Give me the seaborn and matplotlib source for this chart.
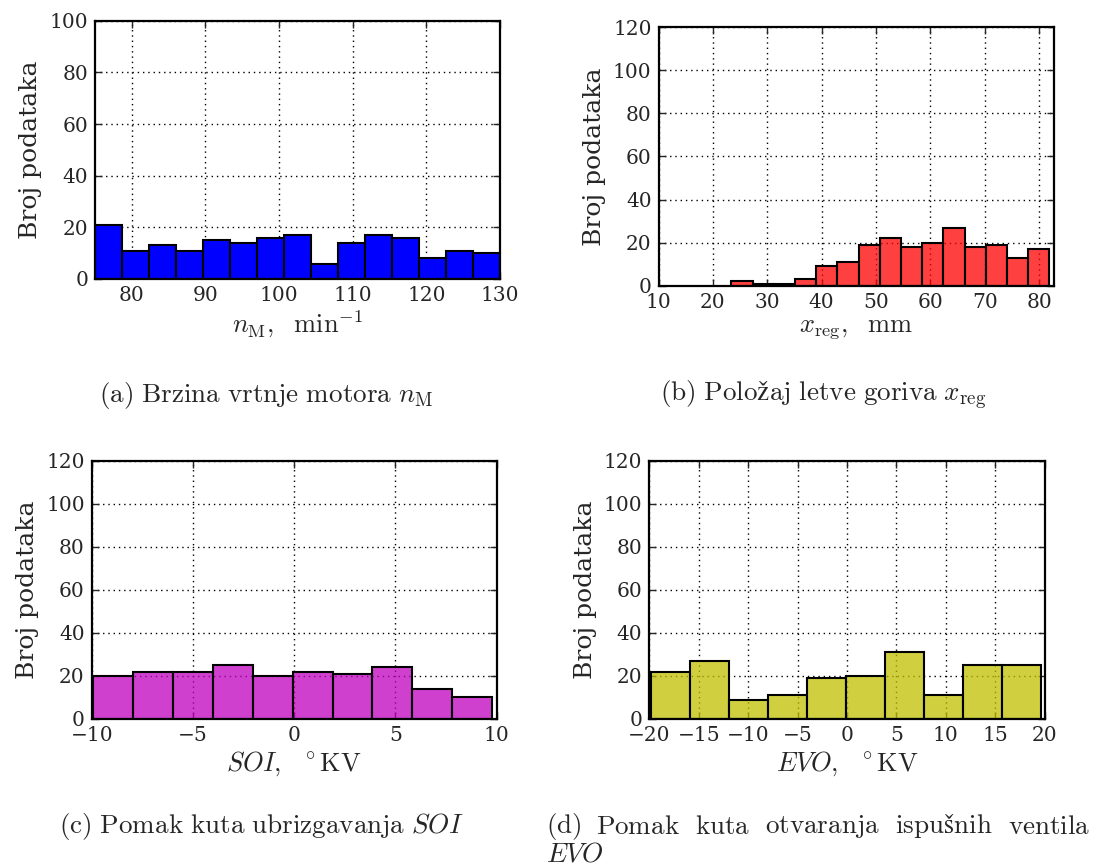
import numpy as np
import pandas as pd
import matplotlib
matplotlib.use("Agg")
import matplotlib.pyplot as plt
import seaborn as sns

# ---------------- data ----------------
nM_range = (75.0, 130.0)
nM_counts = [21, 11, 13, 11, 15, 14, 16, 17, 6, 14, 17, 16, 8, 11, 10]

xreg_range = (23.4, 81.9)
xreg_counts = [2, 1, 1, 3, 9, 11, 19, 22, 18, 20, 27, 18, 19, 13, 17]

soi_range = (-9.92, 9.77)
soi_counts = [20, 22, 22, 25, 20, 22, 21, 24, 14, 10]

evo_range = (-19.87, 19.63)
evo_counts = [22, 27, 9, 11, 19, 20, 31, 11, 25, 25]

xlabels = [r"$n_\mathrm{M},\ \ \mathrm{min}^{-1}$",
           r"$x_\mathrm{reg},\ \ \mathrm{mm}$",
           r"$SOI,\ \ ^\circ\mathrm{KV}$",
           r"$EVO,\ \ ^\circ\mathrm{KV}$"]
ylabel = "Broj podataka"

captions = [r"$\mathrm{(a)\ Brzina\ vrtnje\ motora}\ n_\mathrm{M}$",
            r"$\mathrm{(b)\ Položaj\ letve\ goriva}\ x_\mathrm{reg}$",
            r"$\mathrm{(c)\ Pomak\ kuta\ ubrizgavanja}\ SOI$"]
caption_d_words = [r"$\mathrm{(d)}$", r"$\mathrm{Pomak}$", r"$\mathrm{kuta}$",
                   r"$\mathrm{otvaranja}$", r"$\mathrm{ispušnih}$", r"$\mathrm{ventila}$"]
caption_d_line2 = r"$EVO$"

# ---------------- style ----------------
sns.set_style("ticks")
plt.rcParams["font.family"] = ["DejaVu Serif"]
plt.rcParams["mathtext.fontset"] = "cm"
plt.rcParams["axes.unicode_minus"] = True

fig = plt.figure(figsize=(10.96, 8.63), dpi=100)
W, H = 1096.0, 863.0

def axes_px(l, t, r, b):
    return fig.add_axes([l / W, 1 - b / H, (r - l) / W, (b - t) / H])

ax_a = axes_px(95, 20.7, 500, 279)
ax_b = axes_px(658.5, 27.3, 1053.7, 285.7)
ax_c = axes_px(91.7, 460.7, 496.7, 719)
ax_d = axes_px(649.3, 460.7, 1044.7, 719)

panels = [
    (ax_a, nM_range, nM_counts, "#0000ff", 1.0, (75, 130), 100, np.arange(80, 131, 10)),
    (ax_b, xreg_range, xreg_counts, "red", 0.75, (10, 82.7), 120, np.arange(10, 81, 10)),
    (ax_c, soi_range, soi_counts, "m", 0.75, (-10, 10), 120, np.arange(-10, 11, 5)),
    (ax_d, evo_range, evo_counts, "y", 0.75, (-20, 20), 120, np.arange(-20, 21, 5)),
]

for (ax, rng, counts, color, alpha, xlim, ymax, xticks), xl in zip(panels, xlabels):
    n = len(counts)
    width = (rng[1] - rng[0]) / n
    centers = rng[0] + width * (np.arange(n) + 0.5)
    df = pd.DataFrame({"x": centers, "w": counts})
    ax.set_axisbelow(True)
    ax.grid(True, color="black", linestyle=(0, (1, 2.8)), linewidth=1.0)
    sns.histplot(data=df, x="x", weights="w", bins=n, binrange=rng,
                 color=color, alpha=alpha, edgecolor="black", linewidth=1.5,
                 ax=ax)
    ax.set_xlim(*xlim)
    ax.set_ylim(0, ymax)
    ax.set_xticks(xticks)
    ax.set_yticks(np.arange(0, ymax + 1, 20))
    ax.set_xlabel(xl, fontsize=19, labelpad=3)
    ax.set_ylabel(ylabel, fontsize=18, labelpad=5)
    ax.tick_params(direction="in", top=True, right=True, length=5, width=1,
                   labelsize=14.5, pad=5)
    for s in ax.spines.values():
        s.set_linewidth(1.6)
        s.set_color("black")

# ---------------- captions ----------------
cs = 19.5
fig.text(266 / W, 1 - 395 / H, captions[0], ha="center", va="center", fontsize=cs)
fig.text(823 / W, 1 - 395 / H, captions[1], ha="center", va="center", fontsize=cs)
fig.text(262 / W, 1 - 826 / H, captions[2], ha="center", va="center", fontsize=cs)

# justified first line of caption (d) between x=546 and x=1090
renderer = fig.canvas.get_renderer()
texts = [fig.text(0, 1 - 826 / H, wd, ha="left", va="center", fontsize=cs)
         for wd in caption_d_words]
widths = [t.get_window_extent(renderer).width for t in texts]
x0, x1 = 546.0, 1090.0
gap = (x1 - x0 - sum(widths)) / (len(texts) - 1)
xx = x0
for t, w in zip(texts, widths):
    t.set_x(xx / W)
    xx += w + gap
fig.text(546 / W, 1 - 854 / H, caption_d_line2, ha="left", va="center", fontsize=cs)

fig.savefig("out.png", dpi=100)
